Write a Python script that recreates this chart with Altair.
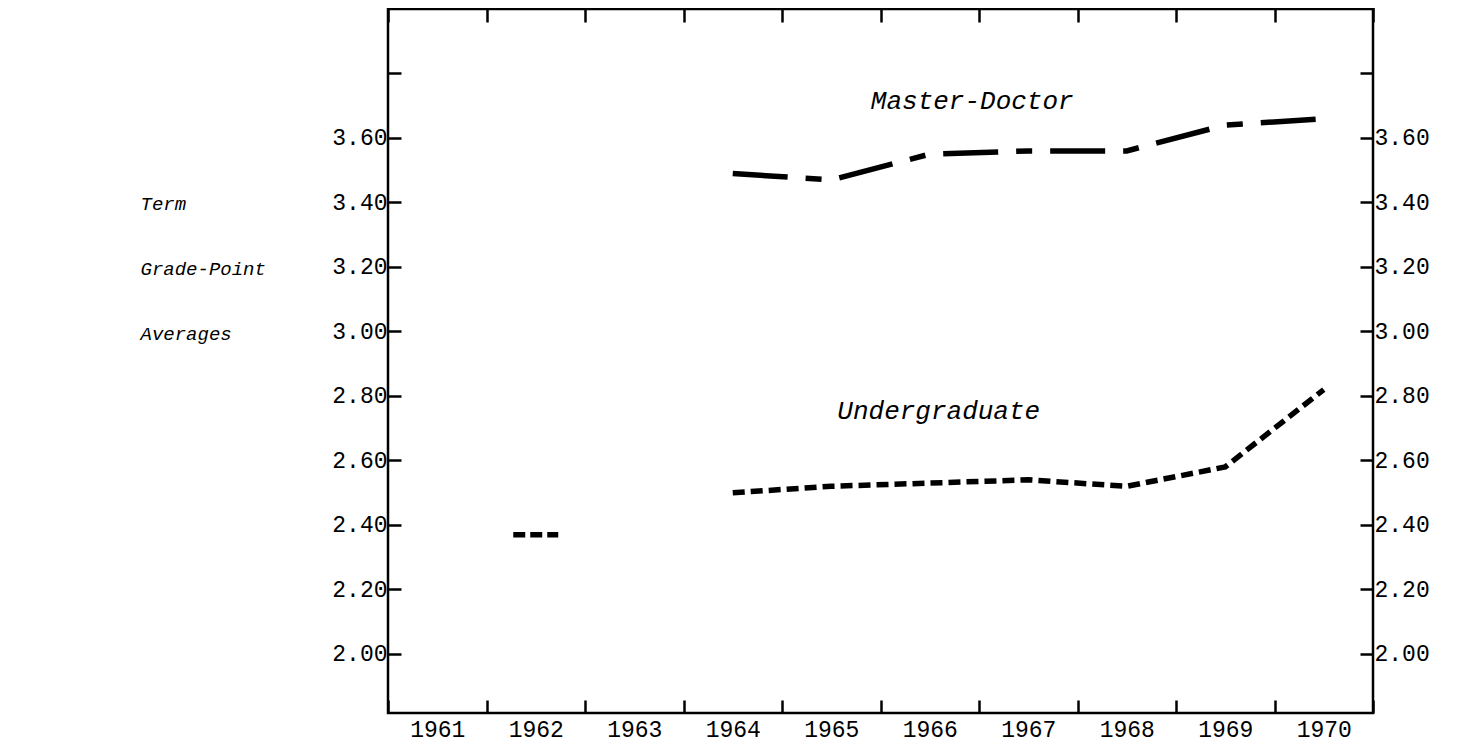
import altair as alt
import pandas as pd

# ---- data ----
years = ["1961", "1962", "1963", "1964", "1965", "1966", "1967", "1968", "1969", "1970"]

md_years = ["1964", "1965", "1966", "1967", "1968", "1969", "1970"]
md_values = [3.49, 3.47, 3.55, 3.56, 3.56, 3.64, 3.66]

ug_years = ["1964", "1965", "1966", "1967", "1968", "1969", "1970"]
ug_values = [2.50, 2.52, 2.53, 2.54, 2.52, 2.58, 2.82]

ug_early_years = ["1962"]
ug_early_values = [2.37]

y_ticks = [2.0, 2.2, 2.4, 2.6, 2.8, 3.0, 3.2, 3.4, 3.6, 3.8]

label_texts = ["Master-Doctor", "Undergraduate"]
label_years = ["1967", "1966"]
label_values = [3.715, 2.755]
label_dx = [-56, 9]

side_title = ["Term", "Grade-Point", "Averages"]

# ---- tables ----
md_df = pd.DataFrame({"year": md_years, "gpa": md_values})
ug_df = pd.DataFrame({"year": ug_years, "gpa": ug_values})
ug_early_df = pd.DataFrame({"year": ug_early_years, "gpa": ug_early_values})

FONT = "Liberation Mono"
TICK = 13

xscale = alt.Scale(type="band", domain=years, paddingInner=0, paddingOuter=0)
yscale = alt.Scale(domain=[1.817, 4.0], nice=False, zero=False)
label_expr = "datum.value > 3.7 ? '' : format(datum.value, '.2f')"

x_bottom = alt.X(
    "year:O", scale=xscale,
    axis=alt.Axis(orient="bottom", tickBand="extent", labelAngle=0, title="",
                  offset=-TICK, tickSize=TICK, labelPadding=5),
)
y_left = alt.Y(
    "gpa:Q", scale=yscale,
    axis=alt.Axis(orient="left", values=y_ticks, labelExpr=label_expr,
                  offset=-TICK, tickSize=TICK, labelPadding=1,
                  title=side_title, titleAngle=0, titleAlign="left",
                  titleBaseline="alphabetic", titleX=-261, titleY=200,
                  titleFont=FONT, titleFontStyle="italic", titleFontWeight="normal",
                  titleFontSize=19, titleLineHeight=65, titleColor="black"),
)
x_top = alt.X(
    "year:O", scale=xscale,
    axis=alt.Axis(orient="top", tickBand="extent", labels=False, title="",
                  offset=-TICK, tickSize=TICK + 2),
)
y_right = alt.Y(
    "gpa:Q", scale=yscale,
    axis=alt.Axis(orient="right", values=y_ticks, labelExpr=label_expr,
                  offset=-TICK, tickSize=TICK, labelPadding=1, title=""),
)

md_line = alt.Chart(md_df).mark_line(
    color="black", strokeWidth=5.5, strokeDash=[55, 18, 16, 18], strokeCap="butt"
).encode(x=x_bottom, y=y_left)

ug_line = alt.Chart(ug_df).mark_line(
    color="black", strokeWidth=5.5, strokeDash=[12, 6], strokeCap="butt"
).encode(
    x=alt.X("year:O", scale=xscale, axis=None),
    y=alt.Y("gpa:Q", scale=yscale, axis=None),
)

ug_early = alt.Chart(ug_early_df).mark_point(
    shape="M-1,0L1,0", size=2025, filled=False, color="black", opacity=1,
    strokeWidth=5.5, strokeDash=[12, 5]
).encode(x=x_top, y=y_right)

labels_df = pd.DataFrame({"text": label_texts, "year": label_years,
                          "gpa": label_values, "dx": label_dx})
text_layers = []
for i in range(len(label_texts)):
    text_layers.append(
        alt.Chart(labels_df.iloc[[i]]).mark_text(
            font=FONT, fontStyle="italic", fontSize=26, color="black",
            align="center", baseline="middle", dx=int(label_dx[i])
        ).encode(
            x=alt.X("year:O", scale=xscale, axis=None),
            y=alt.Y("gpa:Q", scale=yscale, axis=None),
            text="text:N",
        )
    )

chart = alt.layer(md_line, ug_line, ug_early, *text_layers).resolve_axis(
    x="independent", y="independent"
).properties(
    width=985, height=704,
    autosize=alt.AutoSizeParams(type="none"),
    padding={"left": 380, "top": 1, "right": 70, "bottom": 32},
).configure_view(
    stroke="black", strokeWidth=2.5
).configure_axis(
    domain=False, grid=False, labelFont=FONT, labelFontSize=23,
    labelColor="black", tickColor="black", tickWidth=2.5,
)

chart.save("out.html", embed_options={"renderer": "svg", "actions": False})
